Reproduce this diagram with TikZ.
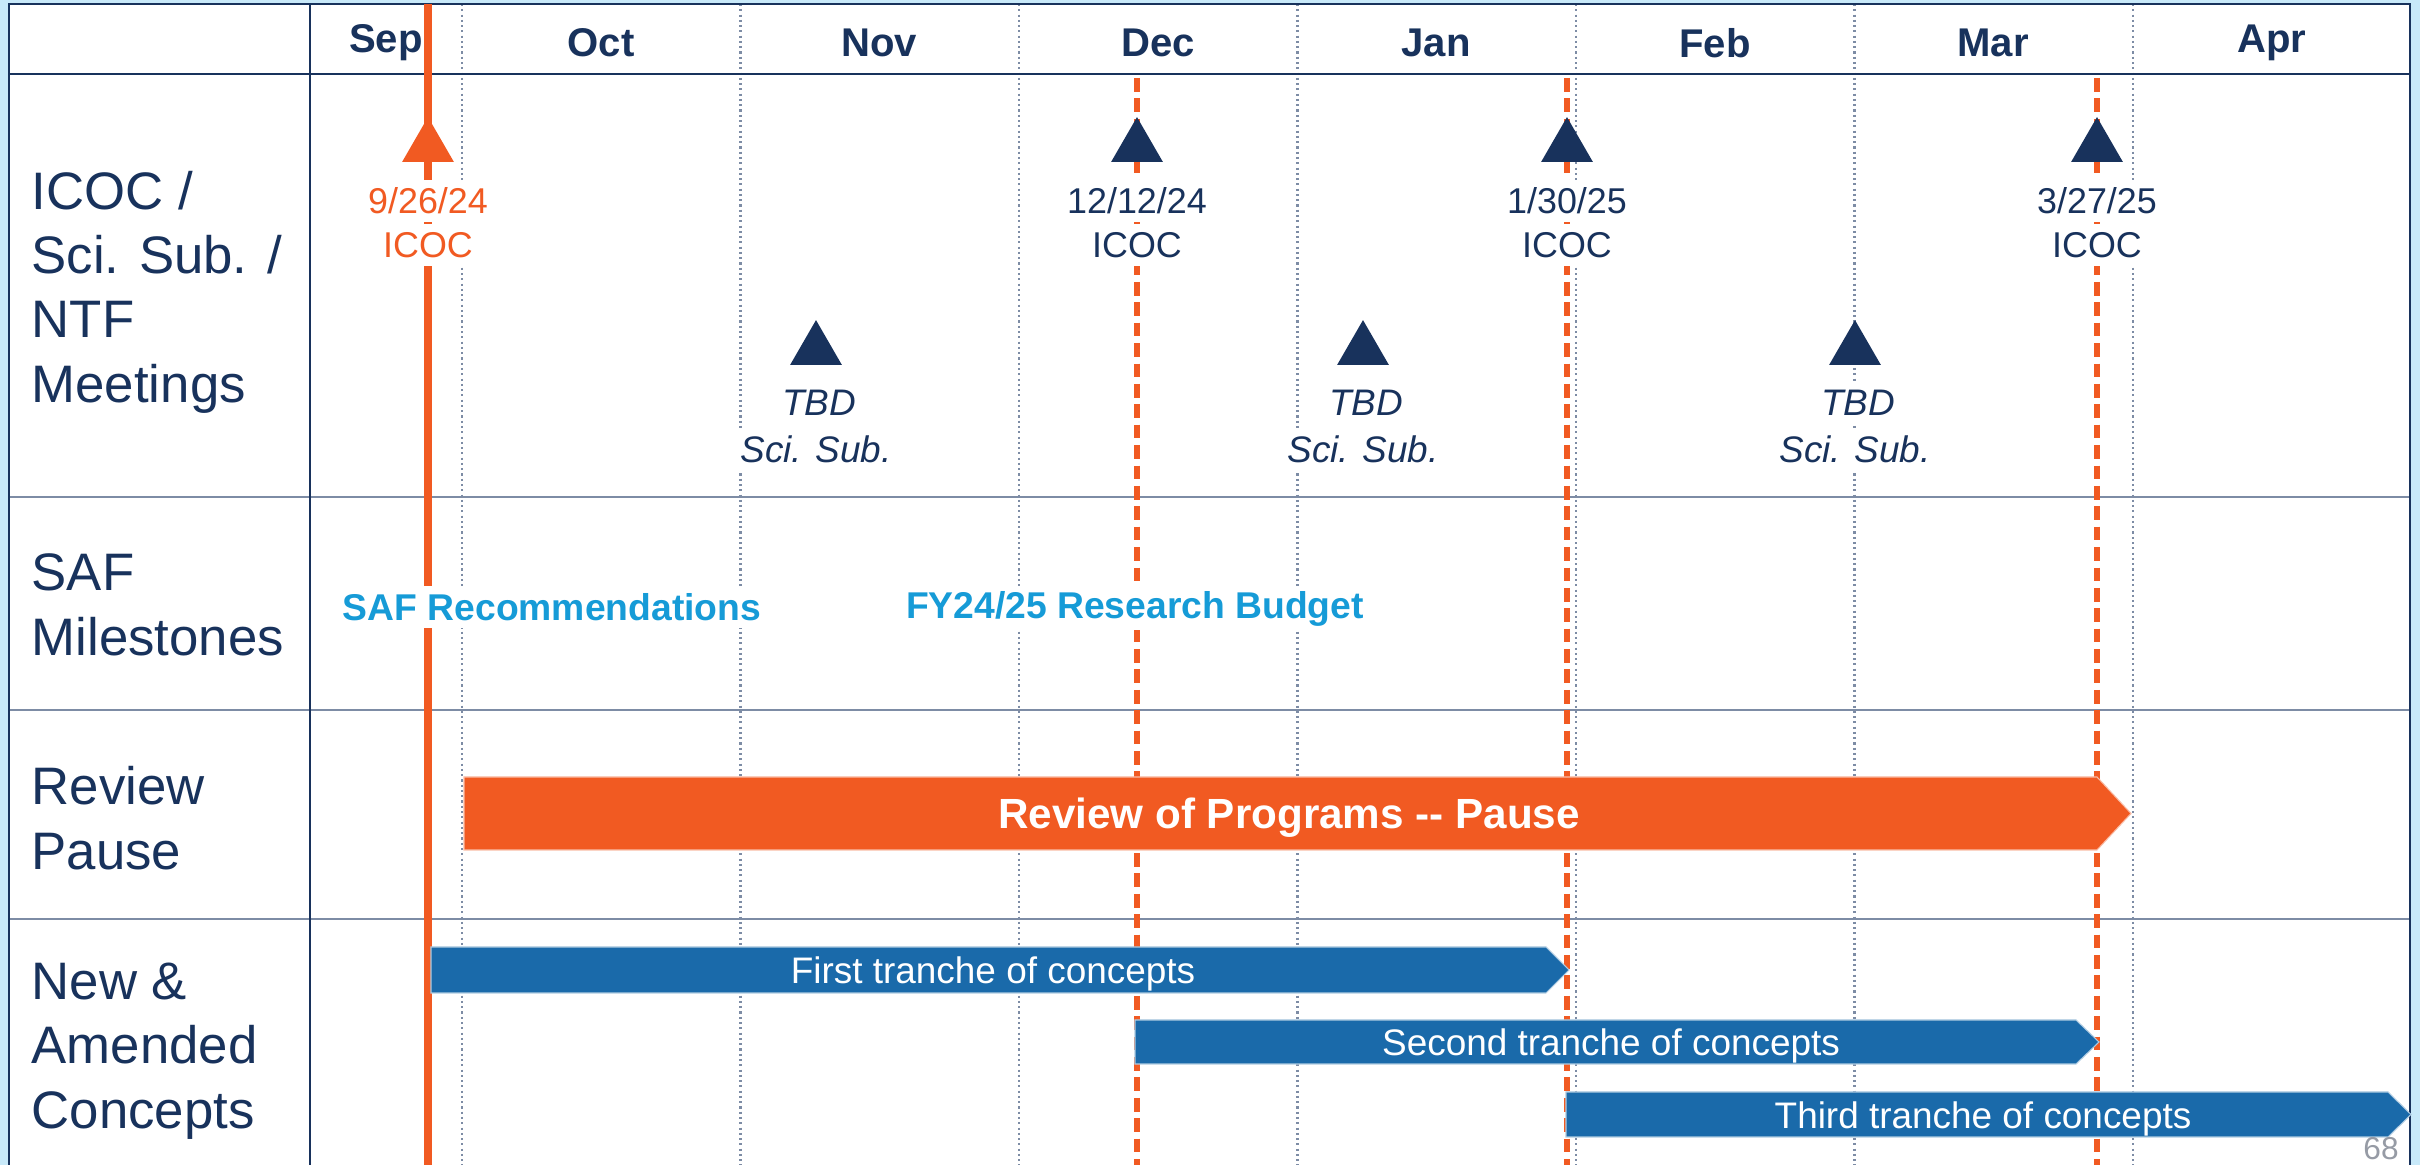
\documentclass[tikz,border=0pt]{standalone}
\usepackage{fontspec}
\setmainfont{Liberation Sans}
\usetikzlibrary{shapes.geometric}

\definecolor{navy}{RGB}{24,50,92}
\definecolor{pauseorange}{RGB}{241,90,34}
\definecolor{conceptblue}{RGB}{26,106,170}
\definecolor{safcyan}{RGB}{22,155,215}
\definecolor{gridgrey}{RGB}{125,140,165}
\definecolor{slidebg}{RGB}{200,233,249}
\definecolor{pagegrey}{RGB}{150,155,165}

\begin{document}
\begin{tikzpicture}[x=0.01cm, y=-0.01cm,
    rowlabel/.style={anchor=west, align=left, inner sep=0pt, text=navy, font=\fontsize{15}{18.3}\selectfont},
    monthlabel/.style={text=navy, font=\fontsize{11.4}{13}\selectfont\bfseries},
    monthline/.style={draw=gridgrey, line width=0.6pt, dash pattern=on 0.6pt off 0.9pt},
    icocline/.style={draw=pauseorange, line width=1.8pt, dash pattern=on 3.9pt off 1.9pt},
    meet/.style={regular polygon, regular polygon sides=3, inner sep=0pt, minimum size=17pt},
    datelabel/.style={fill=white, inner xsep=1pt, inner ysep=0pt, minimum height=12.2pt, text=navy, font=\fontsize{10.2}{12}\selectfont},
    tbdlabel/.style={datelabel, font=\fontsize{10.5}{12}\selectfont\itshape},
    safnote/.style={datelabel, text=safcyan, font=\fontsize{10.6}{12}\selectfont\bfseries},
    tranche/.style={fill=conceptblue, draw=white!65!conceptblue, line width=0.3pt},
    bartext/.style={text=white, inner sep=0pt, font=\fontsize{10.5}{12}\selectfont}]
\useasboundingbox (0,0) rectangle (2420,1165);

% --- slide background and table ---
\fill[slidebg] (0,0) rectangle (2420,1165);
\fill[white] (9,4) rectangle (2410,1165);
\foreach \y in {497,710,919}
    \draw[gridgrey, line width=0.8pt] (9,\y) -- (2410,\y);

% --- month grid ---
\foreach \i in {0,...,6}
    \draw[monthline] ({462+278.5*\i},4) -- ({462+278.5*\i},1165);
\draw[navy, line width=0.8pt] (9,74) -- (2410,74);
\draw[navy, line width=0.7pt] (9,1165) -- (9,4) -- (2410,4) -- (2410,1165);
\draw[navy, line width=0.6pt] (310,4) -- (310,1165);
\foreach \x/\m in {386/Sep,601/Oct,879/Nov,1158/Dec,1436/Jan,1715/Feb,1993/Mar,2272/Apr}
    \node[monthlabel] (m\m) at (\x,43) {\m};

% --- row labels ---
\node[rowlabel] (lmeet) at (31,292) {ICOC /\\Sci. Sub. /\\NTF\\Meetings};
\node[rowlabel] (lsaf) at (31,605) {SAF\\Milestones};
\node[rowlabel] (lpause) at (31,818) {Review\\Pause};
\node[rowlabel] (lconc) at (31,1051) {New \&\\Amended\\Concepts};

% --- ICOC dates ---
\draw[pauseorange, line width=2.3pt] (428,4) -- (428,1165);
\foreach \x in {1137,1567,2097}
    \draw[icocline] (\x,78) -- (\x,1165);

% --- bars ---
\filldraw[fill=pauseorange, draw=white!60!pauseorange, line width=0.3pt]
    (464,777) -- (2097,777) -- (2131,813.5) -- (2097,850) -- (464,850) -- cycle;
\node[bartext, font=\fontsize{12}{14}\selectfont\bfseries] (pause) at (1289,818) {Review of Programs {-}{-} Pause};
\foreach \xa/\xb/\ya/\yb/\tx/\nm/\lab in {
    431/1546/947/993/993/tr1/First tranche of concepts,
    1135/2076/1020/1064/1611/tr2/Second tranche of concepts,
    1566/2388/1092/1137/1983/tr3/Third tranche of concepts} {
    \filldraw[tranche] (\xa,\ya) -- (\xb,\ya) -- (\xb+23,{(\ya+\yb)/2}) -- (\xb,\yb) -- (\xa,\yb) -- cycle;
    \node[bartext] (\nm) at (\tx,{(\ya+\yb)/2+4}) {\lab};
}

% --- meetings ---
\node[meet, fill=pauseorange] (t0) at (428,147) {};
\node[datelabel, text=pauseorange] (d0) at (428,201) {9/26/24};
\node[datelabel, text=pauseorange] (i0) at (428,245) {ICOC};
\foreach \x/\d [count=\k] in {1137/{12/12/24}, 1567/{1/30/25}, 2097/{3/27/25}} {
    \node[meet, fill=navy] (t\k) at (\x,147) {};
    \node[datelabel] (d\k) at (\x,201) {\d};
    \node[datelabel] (i\k) at (\x,245) {ICOC};
}
\foreach \x [count=\k] in {816,1363,1855} {
    \node[meet, fill=navy] (s\k) at (\x,350) {};
    \node[tbdlabel] (tbd\k) at (\x+3,403) {TBD};
    \node[tbdlabel] (sci\k) at (\x,449) {Sci. Sub.};
}

% --- SAF milestones ---
\node[safnote] (saf1) at (552,607) {SAF Recommendations};
\node[safnote] (saf2) at (1135,609) {FY24/25 Research Budget};

\node[text=pagegrey, inner sep=0pt, font=\fontsize{9}{10}\selectfont] (pg) at (2381,1149) {68};
\end{tikzpicture}
\end{document}
